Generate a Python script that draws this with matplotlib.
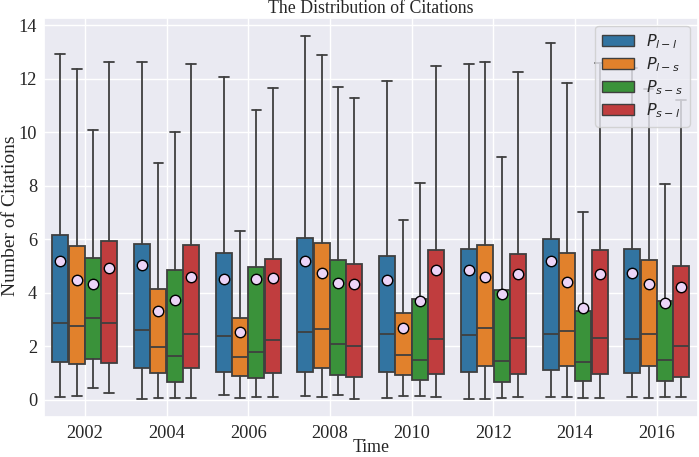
import matplotlib
matplotlib.use("Agg")
import matplotlib.pyplot as plt
import seaborn as sns
from matplotlib.patches import Patch

years = ["2002", "2004", "2006", "2008", "2010", "2012", "2014", "2016"]
hue_labels = [r"$P_{l-l}$", r"$P_{l-s}$", r"$P_{s-s}$", r"$P_{s-l}$"]

# per hue: [P_l-l, P_l-s, P_s-s, P_s-l], each 8 years
q3 = [
    [6.16, 5.80, 5.47, 6.05, 5.37, 5.63, 5.99, 5.63],
    [5.74, 4.12, 3.05, 5.86, 3.23, 5.79, 5.47, 5.22],
    [5.28, 4.83, 4.94, 5.21, 3.77, 4.10, 3.32, 3.68],
    [5.94, 5.78, 5.25, 5.06, 5.59, 5.46, 5.58, 4.99],
]
med = [
    [2.86, 2.62, 2.37, 2.53, 2.44, 2.40, 2.47, 2.25],
    [2.77, 1.98, 1.58, 2.64, 1.68, 2.69, 2.57, 2.47],
    [3.04, 1.64, 1.77, 2.09, 1.47, 1.44, 1.41, 1.49],
    [2.86, 2.47, 2.22, 2.01, 2.25, 2.30, 2.30, 1.99],
]
q1 = [
    [1.42, 1.19, 1.05, 1.05, 1.02, 1.05, 1.10, 1.01],
    [1.33, 0.99, 0.88, 1.20, 0.93, 1.27, 1.27, 1.27],
    [1.52, 0.65, 0.80, 0.91, 0.72, 0.65, 0.68, 0.70],
    [1.37, 1.19, 0.99, 0.86, 0.96, 0.94, 0.94, 0.85],
]
whislo = [
    [0.10, 0.04, 0.16, 0.12, 0.07, 0.04, 0.10, 0.10],
    [0.12, 0.06, 0.06, 0.10, 0.12, 0.04, 0.09, 0.07],
    [0.43, 0.07, 0.10, 0.16, 0.15, 0.05, 0.07, 0.11],
    [0.26, 0.07, 0.11, 0.04, 0.09, 0.09, 0.07, 0.10],
]
whishi = [
    [12.92, 12.62, 12.07, 13.59, 11.90, 12.54, 13.34, 12.40],
    [12.34, 8.86, 6.32, 12.90, 6.73, 12.62, 11.82, 11.60],
    [10.09, 10.02, 10.84, 11.68, 8.08, 9.07, 7.03, 8.06],
    [12.63, 12.56, 11.63, 11.29, 12.48, 12.23, 12.58, 11.20],
]
means = [
    [5.17, 5.02, 4.51, 5.20, 4.47, 4.83, 5.20, 4.73],
    [4.48, 3.33, 2.54, 4.73, 2.67, 4.58, 4.40, 4.33],
    [4.31, 3.74, 4.51, 4.37, 3.67, 3.94, 3.41, 3.63],
    [4.91, 4.57, 4.53, 4.32, 4.85, 4.70, 4.69, 4.22],
]

sns.set_theme(style="darkgrid")
plt.rcParams["font.family"] = ["Liberation Serif", "DejaVu Serif"]
plt.rcParams["mathtext.fontset"] = "dejavusans"

base = sns.color_palette("tab10", 4)
colors = [sns.desaturate(c, 0.75) for c in base]
line_c = "#3f3f3f"

fig = plt.figure(figsize=(6.99, 4.57), dpi=100)
ax = fig.add_axes([0.063, 0.0875, 0.935, 0.874])

n = len(years)
width = 0.2
for h in range(4):
    stats = []
    for i in range(n):
        stats.append(dict(med=med[h][i], q1=q1[h][i], q3=q3[h][i],
                          whislo=whislo[h][i], whishi=whishi[h][i],
                          mean=means[h][i], fliers=[]))
    pos = [i - 0.3 + h * width for i in range(n)]
    ax.bxp(stats, positions=pos, widths=width * 0.98, patch_artist=True,
           showmeans=True, showfliers=False, capwidths=0.12,
           boxprops=dict(facecolor=colors[h], edgecolor=line_c, linewidth=1.3),
           medianprops=dict(color=line_c, linewidth=1.3),
           whiskerprops=dict(color=line_c, linewidth=1.3),
           capprops=dict(color=line_c, linewidth=1.3),
           meanprops=dict(marker="o", markerfacecolor="#ecd4f7",
                          markeredgecolor="black", markersize=7.5,
                          markeredgewidth=1.0),
           manage_ticks=False, zorder=2)

ax.set_xticks(range(n))
ax.set_xticklabels(years)
ax.set_xlim(-0.5, n - 0.5)
ax.set_ylim(-0.65, 14.28)
ax.set_yticks(range(0, 15, 2))
ax.tick_params(axis="both", labelsize=13.2, length=0)
ax.tick_params(axis="x", pad=5.7)
ax.tick_params(axis="y", pad=5)
ax.set_xlabel("Time", fontsize=12.8)
ax.xaxis.set_label_coords(0.5, -0.056)
ax.set_ylabel("Number of Citations", fontsize=14)
ax.yaxis.set_label_coords(-0.038, 0.505)
ax.set_title("The Distribution of Citations", fontsize=12.8, pad=3)

handles = [Patch(facecolor=colors[h], edgecolor=line_c, linewidth=1.0)
           for h in range(4)]
ax.legend(handles, hue_labels, loc="upper right", fontsize=11.5,
          borderaxespad=0.5, labelspacing=0.28, handlelength=2.0)

fig.savefig("out.png", dpi=100)
